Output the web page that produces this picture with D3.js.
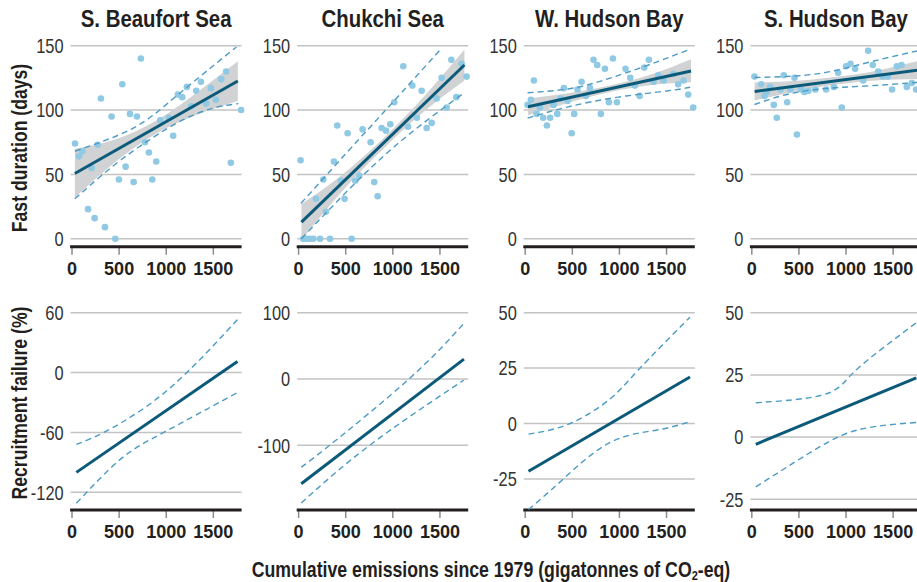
<!DOCTYPE html>
<html>
<head>
<meta charset="utf-8">
<script src="https://cdn.jsdelivr.net/npm/d3@7"></script>
<style>
  body { margin: 0; background: #fff; }
  svg text { font-family: "Liberation Sans", Arial, sans-serif; fill: #231f20; }
</style>
</head>
<body>
<svg id="chart" width="917" height="582"></svg>
<script>
// ---- data ----
var regions = ["S. Beaufort Sea", "Chukchi Sea", "W. Hudson Bay", "S. Hudson Bay"];
var xTicks = [0, 500, 1000, 1500];
var fastTicks = [0, 50, 100, 150];
var recruitTicks = [[60, 0, -60, -120], [100, 0, -100], [50, 25, 0, -25], [50, 25, 0, -25]];
var recruitMin = [-137.7, -197.6, -39, -29.3];

// fast duration scatter (x = cumulative emissions, y = days)
var sbX = [32,74,110,170,208,240,272,307,350,420,459,498,534,569,615,654,689,731,774,816,852,894,936,1028,1074,1124,1170,1219,1265,1318,1368,1424,1474,1527,1583,1636,1686,1795];
var sbY = [74,64,68,23,55,16,73,109,9,95,0,46,120,56,97,44,95,140,75,67,46,60,92,94,80,112,110,118,103,115,122,105,117,108,124,130,59,100];
var chX = [21,49,85,120,156,184,227,262,290,333,375,410,449,488,520,563,601,644,679,764,803,839,881,927,973,1015,1111,1161,1207,1256,1306,1359,1412,1465,1518,1571,1621,1674,1730,1783];
var chY = [61,0,0,0,0,31,0,46,21,0,60,88,45,31,82,0,45,49,85,75,44,33,86,84,89,106,134,87,119,94,115,86,90,109,125,102,139,110,136,126];
var whX = [25,60,92,120,156,191,230,265,301,340,375,410,449,493,520,555,598,644,687,725,764,803,846,888,931,973,1065,1115,1164,1214,1263,1313,1362,1412,1469,1571,1624,1681,1730,1783];
var whY = [104,108,123,97,102,94,88,94,104,97,109,117,107,82,97,116,122,111,117,139,135,97,132,106,140,106,132,125,119,111,133,139,122,127,123,128,120,123,112,102];
var shX = [28,99,134,159,194,233,265,304,339,375,410,453,479,523,559,601,675,789,870,916,955,1001,1047,1097,1182,1235,1284,1341,1390,1443,1489,1539,1589,1645,1698,1744];
var shY = [126,120,111,114,118,104,94,116,127,106,116,125,81,116,114,115,116,116,118,129,102,134,136,132,123,146,135,130,126,126,116,134,135,118,121,116];

// fitted lines, confidence band and dashed limits (fast duration)
var fitX = [30, 1760];
var sbFit = [50.7, 122.6];
var chFit = [12.9, 135];
var whFit = [102.6, 130.3];
var shFit = [114.4, 131];

var bandX = [30, 450, 900, 1350, 1760];
var sbBandHi = [70, 77, 92, 115, 138],       sbBandLo = [32, 59, 82, 97, 107];
var chBandHi = [27, 49, 78, 112, 147],       chBandLo = [-1, 36, 70, 100, 123];
var whBandHi = [109, 113, 119, 128, 139.5],  whBandLo = [96, 105.5, 114, 119.5, 121.5];
var shBandHi = [121.4, 122.5, 125.8, 131, 138], shBandLo = [107.4, 114.3, 119.8, 123.2, 124];

var sbDurHi = [[30,68],[650,86],[1110,111],[1745,149]];
var sbDurLo = [[30,31],[435,56.5],[825,77],[1180,92.5],[1500,101.5],[1765,105]];
var chDurHi = [[25,27.5],[633,76.7],[987,105],[1500,146.6]];
var chDurLo = [[30,0],[633,45.6],[1164,80.6],[1750,113]];
var whDurHi = [[25,113.4],[456,116.4],[810,122.7],[1270,134],[1730,146.7]];
var whDurLo = [[25,93.7],[456,102.5],[987,110],[1518,115],[1750,117.7]];
var shDurHi = [[28,125.3],[470,126.5],[860,130.3],[1284,137.9],[1760,146]];
var shDurLo = [[28,104.3],[400,112.6],[824,117],[1284,119],[1760,121.5]];

// recruitment failure (%)
var sbRecFit = [[46,-100],[1756,11]];
var sbRecHi = [[46,-72],[336,-60],[760,-36],[1219,0],[1756,53]];
var sbRecLo = [[46,-131],[512,-87],[972,-60],[1756,-20]];
var chRecFit = [[28,-158],[1755,30]];
var chRecHi = [[28,-133],[329,-100],[1171,0],[1755,84]];
var chRecLo = [[28,-187],[754,-100],[1755,-1.5]];
var whRecFit = [[35,-21.5],[1749,21]];
var whRecHi = [[35,-4.8],[475,0],[898,11],[1197,24],[1749,48]];
var whRecLo = [[35,-38.8],[405,-25],[898,-8.6],[1390,-3],[1749,0.8]];
var shRecFit = [[42,-2.9],[1746,23.8]];
var shRecHi = [[42,13.8],[757,17],[1038,24.4],[1320,33.7],[1746,46]];
var shRecLo = [[42,-20],[581,-7.1],[968,0.9],[1320,4.3],[1746,5.9]];

var scatter = [[sbX, sbY], [chX, chY], [whX, whY], [shX, shY]];
var fits = [sbFit, chFit, whFit, shFit];
var bands = [[sbBandHi, sbBandLo], [chBandHi, chBandLo], [whBandHi, whBandLo], [shBandHi, shBandLo]];
var durLims = [[sbDurHi, sbDurLo], [chDurHi, chDurLo], [whDurHi, whDurLo], [shDurHi, shDurLo]];
var recs = [[sbRecFit, sbRecHi, sbRecLo], [chRecFit, chRecHi, chRecLo], [whRecFit, whRecHi, whRecLo], [shRecFit, shRecHi, shRecLo]];

// ---- drawing ----
var svg = d3.select("#chart");
var colLine = "#0b5a79", colDash = "#4b9bc5", colDot = "#8fc9e4", colBand = "#d1d2d3", colGrid = "#c3c3c3";
var panelW = 171;
var narrow = 0.82; // squeeze Liberation Sans to look like a condensed face

function drawAxes(g, x, y, ticks) {
  var x0 = x.range()[0], x1 = x.range()[1], yb = y.range()[0];
  g.selectAll(".grid").data(ticks).enter().append("line")
    .attr("x1", x0).attr("x2", x1)
    .attr("y1", function (d) { return y(d); }).attr("y2", function (d) { return y(d); })
    .attr("stroke", colGrid).attr("stroke-width", 1.5);
  g.selectAll(".ylab").data(ticks).enter().append("text")
    .attr("transform", function (d) { return "translate(" + (x0 - 7) + "," + y(d) + ") scale(" + narrow + ",1)"; })
    .attr("dy", "0.36em")
    .attr("text-anchor", "end").style("font-size", "20px").style("fill", "#333")
    .text(function (d) { return d; });
  g.selectAll(".xtick").data(xTicks).enter().append("line")
    .attr("x1", function (d) { return x(d); }).attr("x2", function (d) { return x(d); })
    .attr("y1", yb + 1).attr("y2", yb + 8)
    .attr("stroke", "#8c8c8c").attr("stroke-width", 1.5);
  g.append("line").attr("x1", x0 - 0.5).attr("x2", x1).attr("y1", yb).attr("y2", yb)
    .attr("stroke", "#231f20").attr("stroke-width", 3);
  g.selectAll(".xlab").data(xTicks).enter().append("text")
    .attr("transform", function (d) { return "translate(" + x(d) + "," + (yb + 28) + ") scale(0.95,1)"; })
    .attr("text-anchor", "middle")
    .style("font-weight", "bold").style("font-size", "19px")
    .text(function (d) { return d; });
}

regions.forEach(function (name, i) {
  var left = 70.6 + i * 226.6;
  var x = d3.scaleLinear().domain([-15, 1800]).range([left, left + panelW]);

  // top row: fast duration
  var yTop = d3.scaleLinear().domain([-6.2, 150]).range([246.7, 45.7]);
  var gt = svg.append("g");
  drawAxes(gt, x, yTop, fastTicks);

  var area = d3.area()
    .x(function (d, k) { return x(bandX[k]); })
    .y0(function (d, k) { return yTop(bands[i][1][k]); })
    .y1(function (d, k) { return yTop(bands[i][0][k]); })
    .curve(d3.curveNatural);
  gt.append("path").datum(bandX).attr("d", area).attr("fill", colBand);

  var pts = scatter[i][0].map(function (v, k) { return [v, scatter[i][1][k]]; });
  gt.selectAll(".dot").data(pts).enter().append("circle")
    .attr("cx", function (d) { return x(d[0]); })
    .attr("cy", function (d) { return yTop(d[1]); })
    .attr("r", 3.3).attr("fill", colDot);

  var lineTop = d3.line()
    .x(function (d) { return x(d[0]); }).y(function (d) { return yTop(d[1]); })
    .curve(d3.curveNatural);
  durLims[i].forEach(function (lim) {
    gt.append("path").datum(lim).attr("d", lineTop).attr("fill", "none")
      .attr("stroke", colDash).attr("stroke-width", 1.4).attr("stroke-dasharray", "6,4");
  });
  gt.append("path").datum([[fitX[0], fits[i][0]], [fitX[1], fits[i][1]]]).attr("d", lineTop)
    .attr("fill", "none").attr("stroke", colLine).attr("stroke-width", 3);

  gt.append("text")
    .attr("transform", "translate(" + (left + panelW / 2) + ",27) scale(0.85,1)")
    .attr("text-anchor", "middle").style("font-weight", "bold").style("font-size", "24px")
    .text(name);

  // bottom row: recruitment failure
  var ticks = recruitTicks[i];
  var yBot = d3.scaleLinear().domain([recruitMin[i], ticks[0]]).range([510, 312.7]);
  var gb = svg.append("g");
  drawAxes(gb, x, yBot, ticks);
  var lineBot = d3.line()
    .x(function (d) { return x(d[0]); }).y(function (d) { return yBot(d[1]); })
    .curve(d3.curveNatural);
  [recs[i][1], recs[i][2]].forEach(function (lim) {
    gb.append("path").datum(lim).attr("d", lineBot).attr("fill", "none")
      .attr("stroke", colDash).attr("stroke-width", 1.4).attr("stroke-dasharray", "6,4");
  });
  gb.append("path").datum(recs[i][0]).attr("d", lineBot).attr("fill", "none")
    .attr("stroke", colLine).attr("stroke-width", 3);
});

// axis titles
svg.append("text").attr("transform", "translate(26.5,148) rotate(-90) scale(" + narrow + ",1)")
  .attr("text-anchor", "middle").style("font-weight", "bold").style("font-size", "21.5px")
  .text("Fast duration (days)");
svg.append("text").attr("transform", "translate(26.5,403) rotate(-90) scale(" + narrow + ",1)")
  .attr("text-anchor", "middle").style("font-weight", "bold").style("font-size", "21.5px")
  .text("Recruitment failure (%)");
var xt = svg.append("text").attr("transform", "translate(491,577) scale(" + narrow + ",1)")
  .attr("text-anchor", "middle").style("font-weight", "bold").style("font-size", "21.6px");
xt.append("tspan").text("Cumulative emissions since 1979 (gigatonnes of CO");
xt.append("tspan").attr("dy", 3).style("font-size", "13.5px").text("2");
xt.append("tspan").attr("dy", -3).text("-eq)");
</script>
</body>
</html>
